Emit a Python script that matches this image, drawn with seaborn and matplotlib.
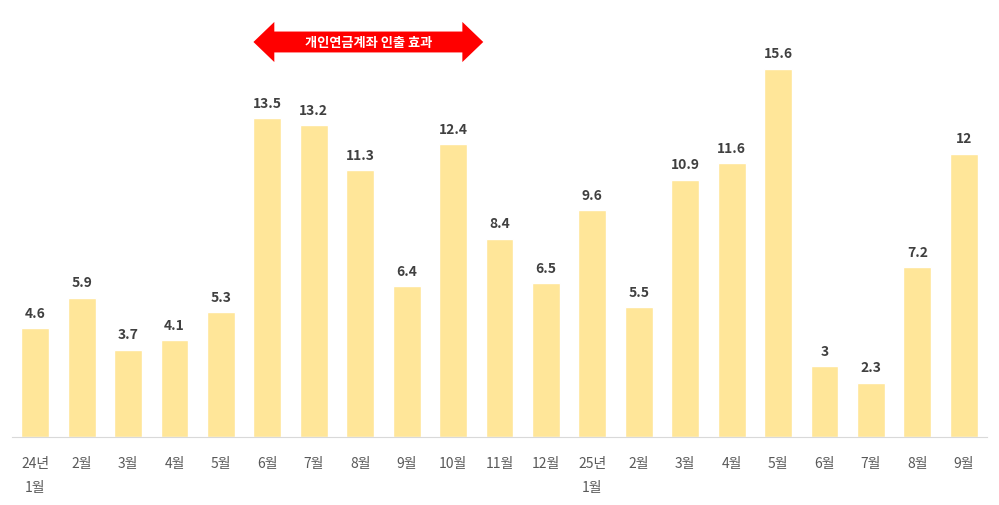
import matplotlib
matplotlib.use("Agg")
import matplotlib.pyplot as plt
import matplotlib.transforms as mtransforms
from matplotlib.patches import Polygon
import numpy as np
import seaborn as sns

months = ["24년\n1월", "2월", "3월", "4월", "5월", "6월", "7월", "8월", "9월", "10월",
          "11월", "12월", "25년\n1월", "2월", "3월", "4월", "5월", "6월", "7월", "8월", "9월"]
values = [4.6, 5.9, 3.7, 4.1, 5.3, 13.5, 13.2, 11.3, 6.4, 12.4,
          8.4, 6.5, 9.6, 5.5, 10.9, 11.6, 15.6, 3, 2.3, 7.2, 12]
value_labels = ["4.6", "5.9", "3.7", "4.1", "5.3", "13.5", "13.2", "11.3", "6.4", "12.4",
                "8.4", "6.5", "9.6", "5.5", "10.9", "11.6", "15.6", "3", "2.3", "7.2", "12"]

sns.set_style("white")
plt.rcParams['font.family'] = ['Noto Sans CJK KR', 'DejaVu Sans']

fig = plt.figure(figsize=(9.99, 5.06), dpi=100)
ax = fig.add_axes([12 / 999, 68 / 506, 975 / 999, 418 / 506])
x = np.arange(len(values))
sns.barplot(x=x, y=values, color="#FFE699", saturation=1, width=0.6, ax=ax)
ax.set_ylim(0, 17.7)
ax.set_xlim(-0.5, len(values) - 0.5)
ax.set_yticks([])
ax.set_xticks(x)
ax.set_xticklabels(months, fontsize=10, color="#595959", linespacing=1.9, va="top")
ax.tick_params(axis="x", length=0, pad=14)
for s in ["top", "right", "left"]:
    ax.spines[s].set_visible(False)
ax.spines["bottom"].set_color("#D9D9D9")

for xi, v, lab in zip(x, values, value_labels):
    ax.text(xi, v + 0.35, lab, ha="center", va="bottom", fontsize=10,
            fontweight="bold", color="#404040")

# red double arrow
trans = mtransforms.blended_transform_factory(ax.transData, ax.transAxes)
x0, x1 = 4.7, 9.65
yc, h, hw, hl = 0.945, 0.025, 0.048, 0.45
pts = [(x0, yc), (x0 + hl, yc + hw), (x0 + hl, yc + h), (x1 - hl, yc + h),
       (x1 - hl, yc + hw), (x1, yc), (x1 - hl, yc - hw), (x1 - hl, yc - h),
       (x0 + hl, yc - h), (x0 + hl, yc - hw)]
ax.add_patch(Polygon(pts, closed=True, transform=trans, facecolor="#FF0000",
                     edgecolor="none", clip_on=False))
ax.text((x0 + x1) / 2, yc, "개인연금계좌 인출 효과", transform=trans, ha="center",
        va="center", fontsize=9.5, fontweight="bold", color="white")

fig.savefig("out.png", dpi=100)
